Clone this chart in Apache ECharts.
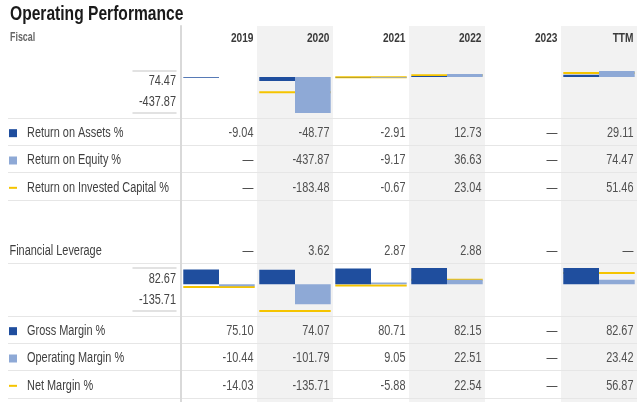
<!DOCTYPE html>
<html><head><meta charset="utf-8">
<script src="https://cdn.jsdelivr.net/npm/echarts@6/dist/echarts.min.js"></script>
<style>html,body{margin:0;padding:0;background:#fff}#c{width:640px;height:402px}</style>
</head><body><div id="c"></div>
<script>
// ---- data ----
const years = ['2019', '2020', '2021', '2022', '2023', 'TTM'];
const returnRows = ['Return on Assets %', 'Return on Equity %', 'Return on Invested Capital %'];
const leverageRows = ['Financial Leverage'];
const marginRows = ['Gross Margin %', 'Operating Margin %', 'Net Margin %'];
const returnOnAssets = [-9.04, -48.77, -2.91, 12.73, null, 29.11];
const returnOnEquity = [null, -437.87, -9.17, 36.63, null, 74.47];
const returnOnInvestedCapital = [null, -183.48, -0.67, 23.04, null, 51.46];
const financialLeverage = [null, 3.62, 2.87, 2.88, null, null];
const grossMargin = [75.10, 74.07, 80.71, 82.15, null, 82.67];
const operatingMargin = [-10.44, -101.79, 9.05, 22.51, null, 23.42];
const netMargin = [-14.03, -135.71, -5.88, 22.54, null, 56.87];

// ---- styles ----
const FONT = "'Liberation Sans', Arial, sans-serif";
const SX = 0.78; // horizontal condensing of text
const DARK = '#1f4e9e', LIGHT = '#8ea9d6', YELLOW = '#f5c400';
const LINE = '#e6e6e6';
const fmt = v => (v == null ? '\u2014' : v.toFixed(2));

function textEl(x, y, text, size, weight, color, align, sx) {
  return { type: 'text', x: x, y: y, scaleX: sx || SX,
    style: { text: text, fill: color, fontSize: size, fontFamily: FONT, fontWeight: weight,
      align: align, verticalAlign: 'middle', textAlign: align, textVerticalAlign: 'middle' } };
}

const grids = [], xAxes = [], yAxes = [], series = [];
function addGrid(g) { grids.push(g); return grids.length - 1; }
const hidden = { show: false };

// right-aligned cell texts in a years x rows grid
function cellSeries(xi, yi, cells, st) {
  return {
    type: 'custom', xAxisIndex: xi, yAxisIndex: yi, silent: true,
    data: cells.map(c => [c[0], c[1]]), encode: { x: 0, y: 1 },
    renderItem(params, api) {
      const p = api.coord([api.value(0), api.value(1)]);
      const bw = api.size([1, 0])[0];
      return textEl(p[0] + bw / 2 - 3.5, p[1] + st.dy, cells[params.dataIndex][2],
        st.fontSize, st.fontWeight || 'normal', st.color, 'right');
    }
  };
}

// background: alternating column shading + divider
let g = addGrid({ left: 181, right: 3, top: 26, bottom: 0 });
xAxes.push({ gridIndex: g, type: 'category', data: years, z: -1, axisLine: hidden, axisTick: hidden, axisLabel: hidden,
  splitLine: hidden, splitArea: { show: true, areaStyle: { color: ['rgba(255,255,255,0)', '#f2f2f2'] } } });
yAxes.push({ gridIndex: g, type: 'value', axisLine: { show: true, lineStyle: { color: '#d9d9d9', width: 2 } },
  axisTick: hidden, axisLabel: hidden, splitLine: hidden });

// header
g = addGrid({ left: 181, right: 3, top: 26, height: 24 });
xAxes.push({ gridIndex: g, type: 'category', data: years, show: false });
yAxes.push({ gridIndex: g, type: 'category', data: ['h'], show: false });
series.push(cellSeries(xAxes.length - 1, yAxes.length - 1, years.map((y, i) => [i, 0, y]),
  { color: '#3a3a3a', fontSize: 13, fontWeight: 'bold', dy: 0 }));

// mini chart
function miniChart(top, height, a, b, c) {
  const all = [].concat(a, b, c).filter(v => v != null);
  const mx = Math.max(...all), mn = Math.min(...all);
  const rangeLabels = [fmt(mx), fmt(mn)];
  // range labels
  const lg = addGrid({ left: 133, width: 43, top: top, height: height });
  const axLine = { show: true, onZero: false, lineStyle: { color: '#d9d9d9', width: 1.5 } };
  xAxes.push({ gridIndex: lg, type: 'value', min: 0, max: 1, position: 'top', axisLine: axLine, axisTick: hidden, axisLabel: hidden, splitLine: hidden });
  const lxi = xAxes.length - 1;
  xAxes.push({ gridIndex: lg, type: 'value', min: 0, max: 1, position: 'bottom', axisLine: axLine, axisTick: hidden, axisLabel: hidden, splitLine: hidden });
  yAxes.push({ gridIndex: lg, type: 'category', data: rangeLabels, inverse: true, show: false });
  series.push({ type: 'custom', xAxisIndex: lxi, yAxisIndex: yAxes.length - 1, silent: true,
    data: rangeLabels.map((t, i) => [1, i]), encode: { x: 0, y: 1 },
    renderItem(params, api) {
      const p = api.coord([api.value(0), api.value(1)]);
      return textEl(p[0], p[1], rangeLabels[params.dataIndex], 14, 'normal', '#444', 'right');
    } });
  // chart
  const cg = addGrid({ left: 181, right: 3, top: top, height: height });
  xAxes.push({ gridIndex: cg, type: 'category', data: years, show: false });
  const xi = xAxes.length - 1;
  yAxes.push({ gridIndex: cg, type: 'value', min: mn, max: mx, show: false });
  const yi = yAxes.length - 1;
  series.push({ type: 'bar', xAxisIndex: xi, yAxisIndex: yi, data: a, barGap: '0%', barCategoryGap: '6%',
    itemStyle: { color: DARK }, silent: true });
  series.push({ type: 'bar', xAxisIndex: xi, yAxisIndex: yi, data: b, barGap: '0%', barCategoryGap: '6%',
    itemStyle: { color: LIGHT }, silent: true });
  series.push({ type: 'custom', xAxisIndex: xi, yAxisIndex: yi, silent: true,
    data: c.map((v, i) => (v == null ? null : [i, v])).filter(d => d), encode: { x: 0, y: 1 },
    renderItem(params, api) {
      const p = api.coord([api.value(0), api.value(1)]);
      const bw = api.size([1, 0])[0] * 0.94;
      return { type: 'line', shape: { x1: p[0] - bw / 2, y1: p[1], x2: p[0] + bw / 2, y2: p[1] },
        style: { stroke: YELLOW, lineWidth: 2 } };
    } });
}

// table block
const markers = {
  'Return on Assets %': DARK, 'Return on Equity %': LIGHT, 'Return on Invested Capital %': 'line',
  'Gross Margin %': DARK, 'Operating Margin %': LIGHT, 'Net Margin %': 'line'
};
function tableBlock(top, rows, arrays, showTop) {
  const h = rows.length * 27.33;
  const split = { show: true, interval: 0, showMinLine: showTop, lineStyle: { color: LINE, width: 1 } };
  const lg = addGrid({ left: 8, width: 173, top: top, height: h });
  xAxes.push({ gridIndex: lg, type: 'value', min: 0, max: 1, show: false });
  yAxes.push({ gridIndex: lg, type: 'category', data: rows, inverse: true,
    axisLine: hidden, axisTick: hidden, axisLabel: hidden, splitLine: split });
  series.push({ type: 'custom', xAxisIndex: xAxes.length - 1, yAxisIndex: yAxes.length - 1, silent: true,
    data: rows.map((r, i) => [0, i]), encode: { x: 0, y: 1 },
    renderItem(params, api) {
      const p = api.coord([api.value(0), api.value(1)]);
      const name = rows[params.dataIndex];
      const m = markers[name];
      const cy = p[1] + 1.5;
      const children = [];
      if (m === 'line') {
        children.push({ type: 'rect', shape: { x: p[0] + 1, y: cy - 1, width: 8, height: 2 }, style: { fill: YELLOW } });
      } else if (m) {
        children.push({ type: 'rect', shape: { x: p[0] + 1, y: cy - 4, width: 8, height: 8 }, style: { fill: m } });
      }
      children.push(textEl(p[0] + (m ? 19 : 1.5), cy, name, 14, 'normal', '#3f3f3f', 'left'));
      return { type: 'group', children: children };
    } });
  const vg = addGrid({ left: 181, right: 3, top: top, height: h });
  xAxes.push({ gridIndex: vg, type: 'category', data: years, show: false });
  yAxes.push({ gridIndex: vg, type: 'category', data: rows, inverse: true,
    axisLine: hidden, axisTick: hidden, axisLabel: hidden, splitLine: split });
  const cells = [];
  arrays.forEach((arr, r) => arr.forEach((v, i) => cells.push([i, r, fmt(v)])));
  series.push(cellSeries(xAxes.length - 1, yAxes.length - 1, cells, { color: '#505050', fontSize: 14, dy: 1.5 }));
}

miniChart(71, 42, returnOnAssets, returnOnEquity, returnOnInvestedCapital);
tableBlock(118, returnRows, [returnOnAssets, returnOnEquity, returnOnInvestedCapital], true);
tableBlock(236, leverageRows, [financialLeverage], false);
miniChart(268, 43, grossMargin, operatingMargin, netMargin);
tableBlock(316, marginRows, [grossMargin, operatingMargin, netMargin], true);

const chart = echarts.init(document.getElementById('c'), null, { renderer: 'canvas' });
chart.setOption({
  animation: false,
  graphic: [
    textEl(10, 14.5, 'Operating Performance', 20, 'bold', '#1a1a1a', 'left'),
    textEl(10, 38, 'Fiscal', 12, 'bold', '#666', 'left', 0.74)
  ],
  grid: grids, xAxis: xAxes, yAxis: yAxes, series: series
});
</script></body></html>
